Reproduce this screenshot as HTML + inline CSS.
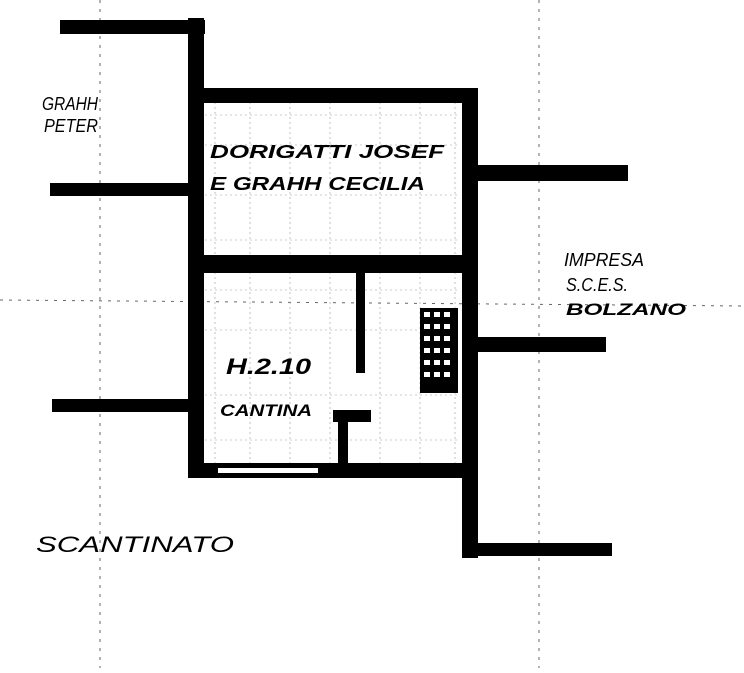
<!DOCTYPE html>
<html><head><meta charset="utf-8"><style>
html,body{margin:0;padding:0;background:#fff;}
body{width:744px;height:668px;position:relative;overflow:hidden;font-family:"Liberation Sans",sans-serif;}
</style></head><body>
<svg width="744" height="668" xmlns="http://www.w3.org/2000/svg">
<g stroke="#666" stroke-width="1" stroke-dasharray="3,6" fill="none">
<line x1="100" y1="0" x2="100" y2="668"/>
<line x1="539" y1="0" x2="539" y2="668"/>
<line x1="0" y1="300" x2="744" y2="306"/>
</g>
<g stroke="#999" stroke-width="0.6" stroke-dasharray="2,3">
<line x1="205" y1="115" x2="460" y2="115"/><line x1="205" y1="145" x2="460" y2="145"/>
<line x1="205" y1="195" x2="460" y2="195"/><line x1="205" y1="240" x2="460" y2="240"/>
<line x1="205" y1="290" x2="460" y2="290"/><line x1="205" y1="330" x2="460" y2="330"/>
<line x1="205" y1="395" x2="460" y2="395"/><line x1="205" y1="440" x2="460" y2="440"/>
<line x1="215" y1="102" x2="215" y2="465"/><line x1="250" y1="102" x2="250" y2="465"/>
<line x1="290" y1="102" x2="290" y2="465"/><line x1="330" y1="102" x2="330" y2="465"/>
<line x1="380" y1="102" x2="380" y2="465"/><line x1="420" y1="102" x2="420" y2="465"/>
<line x1="455" y1="102" x2="455" y2="465"/>
</g>
<g fill="#000">
<rect x="60" y="20" width="145" height="14"/>
<rect x="50" y="183" width="145" height="13"/>
<rect x="52" y="399" width="145" height="13"/>
<rect x="188" y="18" width="16" height="460"/>
<rect x="188" y="88" width="290" height="15"/>
<rect x="462" y="88" width="16" height="470"/>
<rect x="188" y="255" width="282" height="18"/>
<rect x="188" y="463" width="290" height="15"/>
<rect x="478" y="165" width="150" height="16"/>
<rect x="478" y="337" width="128" height="15"/>
<rect x="462" y="543" width="150" height="13"/>
<rect x="356" y="270" width="9" height="103"/>
<rect x="333" y="410" width="38" height="12"/>
<rect x="338" y="418" width="10" height="60"/>
</g>
<rect x="218" y="468" width="100" height="5" fill="#fff"/>
<rect x="420" y="308" width="38" height="85" fill="#000"/>
<g fill="#fff">
<rect x="424" y="312" width="6" height="5"/><rect x="434" y="312" width="6" height="5"/><rect x="444" y="312" width="6" height="5"/>
<rect x="424" y="324" width="6" height="5"/><rect x="434" y="324" width="6" height="5"/><rect x="444" y="324" width="6" height="5"/>
<rect x="424" y="336" width="6" height="5"/><rect x="434" y="336" width="6" height="5"/><rect x="444" y="336" width="6" height="5"/>
<rect x="424" y="348" width="6" height="5"/><rect x="434" y="348" width="6" height="5"/><rect x="444" y="348" width="6" height="5"/>
<rect x="424" y="360" width="6" height="5"/><rect x="434" y="360" width="6" height="5"/><rect x="444" y="360" width="6" height="5"/>
<rect x="424" y="372" width="6" height="5"/><rect x="434" y="372" width="6" height="5"/><rect x="444" y="372" width="6" height="5"/>
</g>
<g font-family="Liberation Sans, sans-serif" font-style="italic" fill="#000">
<text x="42" y="110" font-size="18" textLength="56" lengthAdjust="spacingAndGlyphs">GRAHH</text>
<text x="44" y="132" font-size="18" textLength="54" lengthAdjust="spacingAndGlyphs">PETER</text>
<text x="210" y="158" font-size="18" font-weight="bold" textLength="234" lengthAdjust="spacingAndGlyphs">DORIGATTI JOSEF</text>
<text x="210" y="190" font-size="18" font-weight="bold" textLength="215" lengthAdjust="spacingAndGlyphs">E GRAHH CECILIA</text>
<text x="226" y="374" font-size="22" font-weight="bold" textLength="85" lengthAdjust="spacingAndGlyphs">H.2.10</text>
<text x="220" y="416" font-size="17" font-weight="bold" textLength="92" lengthAdjust="spacingAndGlyphs">CANTINA</text>
<text x="564" y="266" font-size="18" textLength="80" lengthAdjust="spacingAndGlyphs">IMPRESA</text>
<text x="566" y="291" font-size="18" textLength="62" lengthAdjust="spacingAndGlyphs">S.C.E.S.</text>
<text x="566" y="315" font-size="17" font-weight="bold" textLength="120" lengthAdjust="spacingAndGlyphs">BOLZANO</text>
<text x="36" y="552" font-size="22" textLength="198" lengthAdjust="spacingAndGlyphs">SCANTINATO</text>
</g>
</svg>
</body></html>
